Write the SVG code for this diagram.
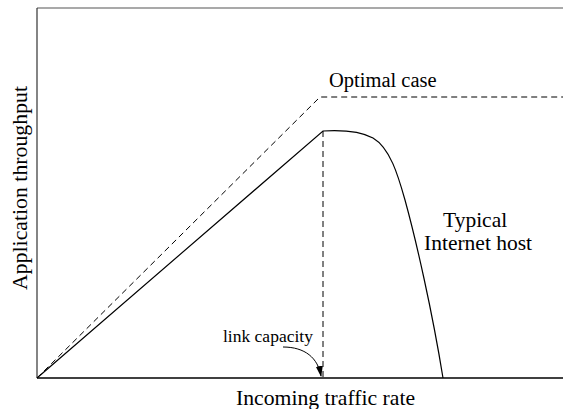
<svg xmlns="http://www.w3.org/2000/svg" width="563" height="409" viewBox="0 0 563 409">
<style>
text{font-family:"Liberation Serif","Times New Roman",serif;fill:#000}
.dash{fill:none;stroke:#000;stroke-width:1;stroke-dasharray:6,4}
.solid{fill:none;stroke:#000;stroke-width:1.2}
</style>
<defs>
<marker id="ah" markerWidth="11" markerHeight="7" refX="10" refY="3.5" orient="auto" markerUnits="userSpaceOnUse">
<path d="M0,0 L11,3.5 L0,7 z" fill="#000"/>
</marker>
</defs>
<rect width="563" height="409" fill="#fff"/>
<g id="axes">
<line x1="37" y1="8" x2="563" y2="8" stroke="#555" stroke-width="1.2"/>
<line x1="37" y1="8" x2="37" y2="378" stroke="#333" stroke-width="1.2"/>
<line x1="37" y1="378" x2="563" y2="378" stroke="#000" stroke-width="1.5"/>
</g>
<g id="connectors">
<path id="optimal" class="dash" d="M37,378 L320,97 L563,97"/>
<path id="typical" class="solid" d="M37,378 L323,131 C340,130 360,131 373,138 C390,148 398,175 405,200 C416,240 432,310 443,378"/>
<line id="capacity-line" class="dash" x1="323" y1="131" x2="323" y2="378"/>
<path id="capacity-arrow" fill="none" stroke="#000" stroke-width="1" d="M283,347 C305,347 318,358 321,376" marker-end="url(#ah)"/>
</g>
<g id="labels">
<text x="329" y="87" font-size="20.5">Optimal case</text>
<text x="443" y="227" font-size="21.5">Typical</text>
<text x="424" y="250" font-size="21.5">Internet host</text>
<text x="223" y="342" font-size="17.5">link capacity</text>
<text x="236" y="405" font-size="21.7">Incoming traffic rate</text>
<text transform="translate(27,290) rotate(-90)" font-size="21.8">Application throughput</text>
</g>
</svg>
